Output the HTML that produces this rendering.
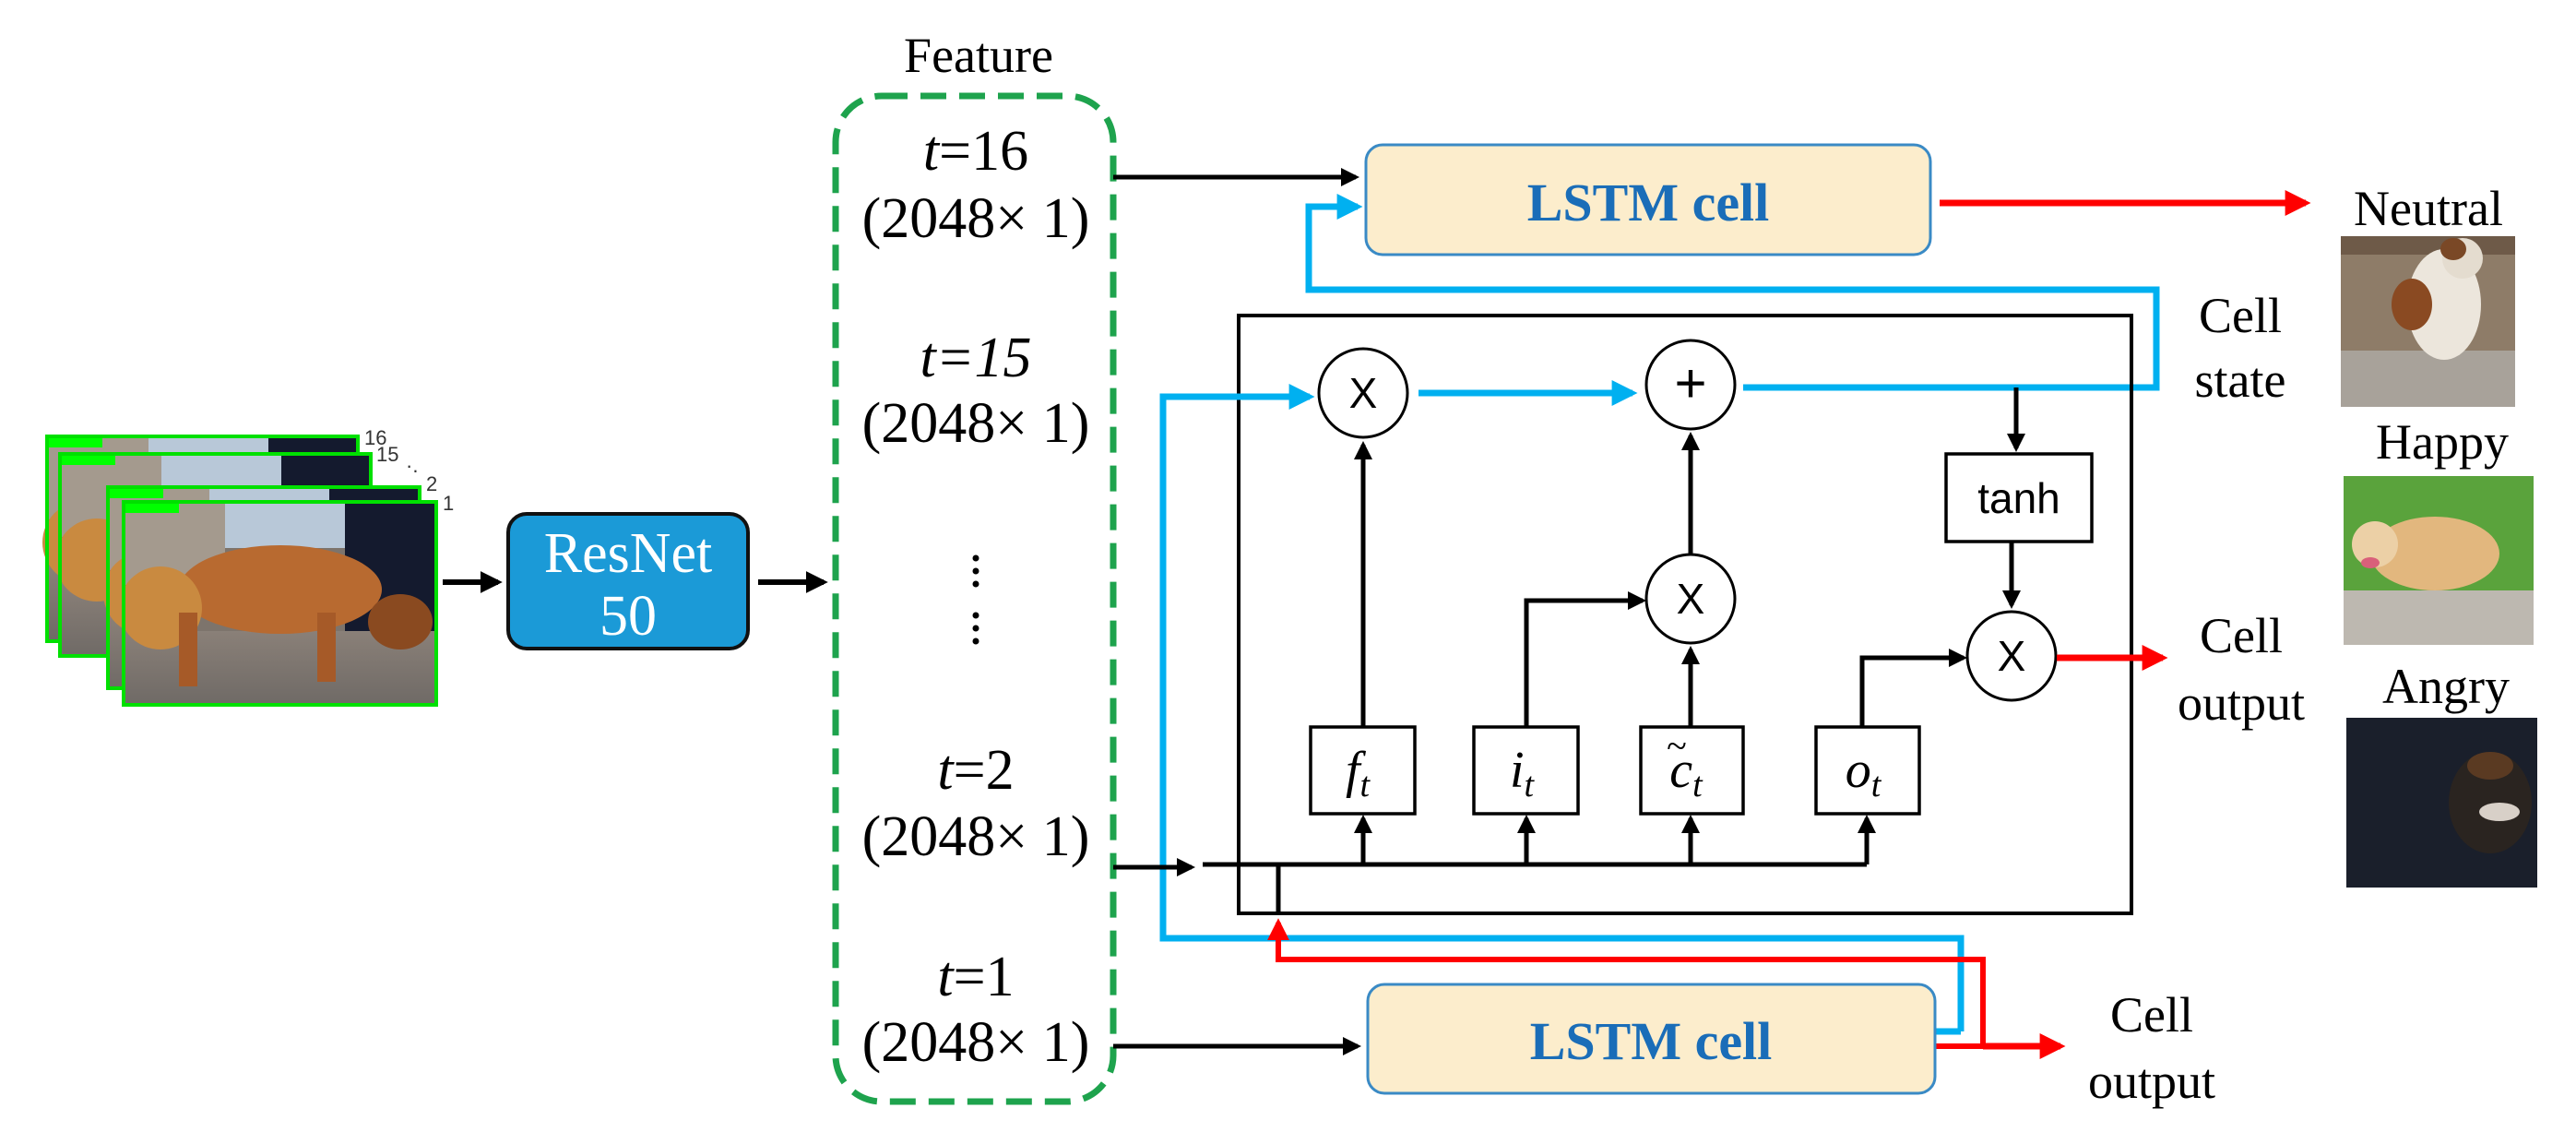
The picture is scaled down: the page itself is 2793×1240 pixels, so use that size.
<!DOCTYPE html>
<html><head><meta charset="utf-8"><style>
html,body{margin:0;padding:0;background:#fff;}
svg{display:block;}
.s{font-family:"Liberation Serif",serif;}
.a{font-family:"Liberation Sans",sans-serif;}
</style></head><body>
<svg width="2793" height="1240" viewBox="0 0 2793 1240" xmlns="http://www.w3.org/2000/svg">
<defs>
<marker id="ak" markerWidth="4" markerHeight="4" refX="3.2" refY="2" orient="auto" markerUnits="strokeWidth"><path d="M0,0 L4,2 L0,4 Z" fill="#000"/></marker>
<marker id="ab" markerWidth="4" markerHeight="4" refX="3.2" refY="2" orient="auto" markerUnits="strokeWidth"><path d="M0,0 L4,2 L0,4 Z" fill="#00b0f0"/></marker>
<marker id="ar" markerWidth="4" markerHeight="4" refX="3.2" refY="2" orient="auto" markerUnits="strokeWidth"><path d="M0,0 L4,2 L0,4 Z" fill="#ff0000"/></marker>
<linearGradient id="fl" x1="0" y1="0" x2="0" y2="1"><stop offset="0" stop-color="#8a8078"/><stop offset="1" stop-color="#6f6a66"/></linearGradient>
<g id="frame" stroke="none">
<rect x="0" y="0" width="338" height="220" fill="#7d746c"/>
<rect x="90" y="0" width="150" height="50" fill="#b8c8d8"/>
<rect x="240" y="0" width="98" height="140" fill="#141a2e"/>
<rect x="0" y="0" width="110" height="90" fill="#a49a8e"/>
<rect x="0" y="140" width="338" height="80" fill="url(#fl)"/>
<ellipse cx="170" cy="95" rx="110" ry="48" fill="#b86a30"/>
<ellipse cx="40" cy="115" rx="45" ry="45" fill="#c98a40"/>
<ellipse cx="300" cy="130" rx="35" ry="30" fill="#8a4a20"/>
<rect x="60" y="120" width="20" height="80" fill="#a65a28"/>
<rect x="210" y="120" width="20" height="75" fill="#a65a28"/>
<rect x="0" y="0" width="60" height="12" fill="#00ff00"/>
</g>
</defs>

<!-- frames -->
<use href="#frame" transform="translate(51,473)"/><rect x="51" y="473" width="337" height="222" fill="none" stroke="#00e000" stroke-width="4"/>
<use href="#frame" transform="translate(65,492)"/><rect x="65" y="492" width="337" height="219" fill="none" stroke="#00e000" stroke-width="4"/>
<use href="#frame" transform="translate(117,528)"/><rect x="117" y="528" width="338" height="218" fill="none" stroke="#00e000" stroke-width="4"/>
<use href="#frame" transform="translate(134,544)"/><rect x="134" y="544" width="339" height="220" fill="none" stroke="#00e000" stroke-width="4"/>
<g class="a" font-size="22" fill="#333">
<text x="395" y="482">16</text><text x="408" y="500">15</text><text x="440" y="512">·.</text><text x="462" y="532">2</text><text x="480" y="553">1</text>
</g>

<line x1="480" y1="631" x2="540" y2="631" stroke="#000" stroke-width="6" marker-end="url(#ak)"/>
<rect x="551" y="557" width="260" height="146" rx="20" fill="#1b9ad7" stroke="#111" stroke-width="4"/>
<text class="s" x="681" y="620" font-size="62" fill="#fff" text-anchor="middle">ResNet</text>
<text class="s" x="681" y="688" font-size="62" fill="#fff" text-anchor="middle">50</text>
<line x1="822" y1="631" x2="893" y2="631" stroke="#000" stroke-width="6" marker-end="url(#ak)"/>

<!-- feature dashed box -->
<text class="s" x="1061" y="78" font-size="54" text-anchor="middle">Feature</text>
<rect x="906" y="104" width="301" height="1090" rx="50" fill="none" stroke="#1ea34d" stroke-width="7" stroke-dasharray="28,14"/>
<g class="s" font-size="62" text-anchor="middle">
<text x="1058" y="184"><tspan font-style="italic">t</tspan>=16</text>
<text x="1058" y="257">(2048× 1)</text>
<text x="1058" y="408" font-style="italic">t=15</text>
<text x="1058" y="479">(2048× 1)</text>
<text x="1058" y="855"><tspan font-style="italic">t</tspan>=2</text>
<text x="1058" y="927">(2048× 1)</text>
<text x="1058" y="1079"><tspan font-style="italic">t</tspan>=1</text>
<text x="1058" y="1150">(2048× 1)</text>
</g>
<g fill="#000"><circle cx="1058" cy="605" r="3.5"/><circle cx="1058" cy="619" r="3.5"/><circle cx="1058" cy="633" r="3.5"/><circle cx="1058" cy="667" r="3.5"/><circle cx="1058" cy="681" r="3.5"/><circle cx="1058" cy="695" r="3.5"/></g>

<!-- top LSTM -->
<line x1="1207" y1="192" x2="1470" y2="192" stroke="#000" stroke-width="5" marker-end="url(#ak)"/>
<rect x="1481" y="157" width="612" height="119" rx="18" fill="#fcedcc" stroke="#3a8ac5" stroke-width="3"/>
<text class="s" x="1787" y="239" font-size="58" font-weight="bold" fill="#1a6db8" text-anchor="middle">LSTM cell</text>
<line x1="2103" y1="220" x2="2500" y2="220" stroke="#ff0000" stroke-width="7" marker-end="url(#ar)"/>

<polyline points="1890,420 2338,420 2338,314 1419,314 1419,224 1472,224" fill="none" stroke="#00b0f0" stroke-width="7" marker-end="url(#ab)"/>

<rect x="1343" y="342" width="968" height="648" fill="none" stroke="#000" stroke-width="4"/>

<polyline points="2126,1118 2126,1017 1261,1017 1261,430 1420,430" fill="none" stroke="#00b0f0" stroke-width="7" marker-end="url(#ab)"/>
<line x1="2126" y1="1118" x2="2098" y2="1118" stroke="#00b0f0" stroke-width="7"/>
<line x1="1538" y1="426" x2="1770" y2="426" stroke="#00b0f0" stroke-width="7" marker-end="url(#ab)"/>

<g fill="#fff" stroke="#000" stroke-width="3">
<circle cx="1478" cy="426" r="48"/><circle cx="1833" cy="417" r="48"/><circle cx="1833" cy="649" r="48"/><circle cx="2181" cy="711" r="48"/>
</g>
<g class="a" font-size="46" text-anchor="middle">
<text x="1478" y="442">X</text><text x="1833" y="436" font-size="60">+</text><text x="1833" y="665">X</text><text x="2181" y="727">X</text>
</g>

<line x1="2186" y1="420" x2="2186" y2="486" stroke="#000" stroke-width="5" marker-end="url(#ak)"/>
<rect x="2110" y="492" width="158" height="95" fill="#fff" stroke="#000" stroke-width="3.5"/>
<text class="a" x="2189" y="556" font-size="46" text-anchor="middle">tanh</text>
<line x1="2181" y1="587" x2="2181" y2="656" stroke="#000" stroke-width="5" marker-end="url(#ak)"/>
<line x1="2230" y1="713" x2="2345" y2="713" stroke="#ff0000" stroke-width="7" marker-end="url(#ar)"/>

<g fill="#fff" stroke="#000" stroke-width="3.5">
<rect x="1421" y="788" width="113" height="94"/><rect x="1598" y="788" width="113" height="94"/><rect x="1779" y="788" width="111" height="94"/><rect x="1969" y="788" width="112" height="94"/>
</g>
<g class="s" font-style="italic" font-size="56" text-anchor="middle">
<text x="1472" y="853">f<tspan font-size="38" dy="10">t</tspan></text>
<text x="1650" y="853">i<tspan font-size="38" dy="10">t</tspan></text>
<text x="1828" y="853">c<tspan font-size="38" dy="10">t</tspan></text>
<text x="2020" y="853">o<tspan font-size="38" dy="10">t</tspan></text>
</g>
<text class="s" x="1818" y="822" font-size="40" text-anchor="middle">~</text>

<g stroke="#000" stroke-width="5" fill="none">
<line x1="1478" y1="788" x2="1478" y2="482" marker-end="url(#ak)"/>
<line x1="1833" y1="601" x2="1833" y2="472" marker-end="url(#ak)"/>
<line x1="1833" y1="788" x2="1833" y2="704" marker-end="url(#ak)"/>
<polyline points="1655,788 1655,651 1781,651" marker-end="url(#ak)"/>
<polyline points="2019,788 2019,713 2129,713" marker-end="url(#ak)"/>
<line x1="1304" y1="937" x2="2024" y2="937"/>
<line x1="1478" y1="937" x2="1478" y2="887" marker-end="url(#ak)"/>
<line x1="1655" y1="937" x2="1655" y2="887" marker-end="url(#ak)"/>
<line x1="1833" y1="937" x2="1833" y2="887" marker-end="url(#ak)"/>
<line x1="2024" y1="937" x2="2024" y2="887" marker-end="url(#ak)"/>
<line x1="1207" y1="940" x2="1292" y2="940" marker-end="url(#ak)"/>
<line x1="1386" y1="937" x2="1386" y2="990"/>
</g>

<polyline points="2098,1134 2150,1134 2150,1040 1386,1040 1386,1000" fill="none" stroke="#ff0000" stroke-width="6" marker-end="url(#ar)"/>
<line x1="2150" y1="1134" x2="2234" y2="1134" stroke="#ff0000" stroke-width="7" marker-end="url(#ar)"/>

<line x1="1207" y1="1134" x2="1472" y2="1134" stroke="#000" stroke-width="5" marker-end="url(#ak)"/>
<rect x="1483" y="1067" width="615" height="118" rx="18" fill="#fcedcc" stroke="#3a8ac5" stroke-width="3"/>
<text class="s" x="1790" y="1148" font-size="58" font-weight="bold" fill="#1a6db8" text-anchor="middle">LSTM cell</text>

<g class="s" font-size="54" text-anchor="middle">
<text x="2429" y="360">Cell</text><text x="2429" y="430">state</text>
<text x="2430" y="707">Cell</text><text x="2430" y="780">output</text>
<text x="2333" y="1118">Cell</text><text x="2333" y="1190">output</text>
<text x="2633" y="244">Neutral</text>
<text x="2648" y="497">Happy</text>
<text x="2652" y="762">Angry</text>
</g>

<rect x="2538" y="256" width="189" height="185" fill="#8e7c68"/>
<rect x="2538" y="256" width="189" height="20" fill="#6e5a48"/>
<rect x="2538" y="380" width="189" height="61" fill="#a8a29a"/>
<ellipse cx="2650" cy="330" rx="40" ry="60" fill="#ece6dc"/>
<ellipse cx="2615" cy="330" rx="22" ry="28" fill="#8a4a22"/>
<ellipse cx="2670" cy="280" rx="22" ry="22" fill="#e4dccf"/>
<ellipse cx="2660" cy="270" rx="14" ry="12" fill="#7a4826"/>
<rect x="2541" y="516" width="206" height="183" fill="#5aa33c"/>
<rect x="2541" y="640" width="206" height="59" fill="#bdb8b0"/>
<ellipse cx="2640" cy="600" rx="70" ry="40" fill="#e2b77e"/>
<ellipse cx="2575" cy="590" rx="25" ry="25" fill="#ecd0a6"/>
<ellipse cx="2570" cy="610" rx="10" ry="6" fill="#d9607a"/>
<rect x="2544" y="778" width="207" height="184" fill="#1a1f2b"/>
<ellipse cx="2700" cy="870" rx="45" ry="55" fill="#2a2420"/>
<ellipse cx="2710" cy="880" rx="22" ry="10" fill="#d8d0c8"/>
<ellipse cx="2700" cy="830" rx="25" ry="15" fill="#5a3a22"/>
</svg>
</body></html>
